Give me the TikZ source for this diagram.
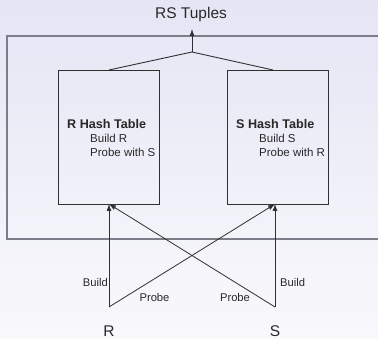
\documentclass[tikz,border=0pt]{standalone}
\usepackage{fontspec}
\setmainfont{Liberation Sans}
\usetikzlibrary{arrows.meta}
\definecolor{bgtop}{RGB}{229,229,245}
\definecolor{bgbot}{RGB}{249,249,252}
\definecolor{frame}{RGB}{125,125,138}
\definecolor{ink}{RGB}{48,48,48}
\definecolor{txt}{RGB}{40,40,40}
\tikzset{
  tablebox/.style={draw=ink, line width=0.9pt, rectangle, minimum width=101pt, minimum height=134pt, inner sep=0pt},
  flow/.style={draw=ink, line width=0.8pt, -{Latex[length=7pt,width=5pt]}},
  mergeline/.style={draw=ink, line width=0.9pt},
  bigtxt/.style={text=txt, font=\fontsize{15.5}{18}\selectfont, inner sep=0pt},
  headtxt/.style={text=txt, font=\fontsize{12.6}{15}\selectfont\bfseries, inner sep=0pt, anchor=west},
  bodytxt/.style={text=txt, font=\fontsize{11.5}{14}\selectfont, inner sep=0pt, anchor=west},
  lbl/.style={text=txt, font=\fontsize{11.2}{13}\selectfont, inner sep=0pt},
}
\begin{document}
\begin{tikzpicture}[x=1pt,y=-1pt]
  \useasboundingbox (0,0) rectangle (378,339);
  \clip (0,0) rectangle (378,339);
  % background wash
  \shade[top color=bgtop, bottom color=bgbot] (0,0) rectangle (378,339);

  % enclosing frame, running past the right edge
  \draw[frame, line width=1.3pt] (400,36) -- (7,36) -- (7,239) -- (400,239);

  % hash tables
  \node[tablebox] (rtab) at (108.5,137) {};
  \node[tablebox] (stab) at (277.5,137) {};

  \node[headtxt] (rhead) at (67,124) {R Hash Table};
  \node[bodytxt] (rbuild) at (90,138) {Build R};
  \node[bodytxt] (rprobe) at (90,152) {Probe with S};

  \node[headtxt] (shead) at (236,124) {S Hash Table};
  \node[bodytxt] (sbuild) at (259,138) {Build S};
  \node[bodytxt] (sprobe) at (259,152) {Probe with R};

  % output
  \node[bigtxt] (rs) at (191,14) {RS Tuples};
  \coordinate (apex) at (192,52);
  \coordinate (outtip) at (192,29);
  \coordinate (rtop) at (109,70);
  \coordinate (stop) at (273,70);
  \draw[mergeline] (rtop) -- (apex) -- (stop);
  \draw[flow] (apex) -- (outtip);

  % inputs
  \node[bigtxt] (r) at (109,331) {R};
  \node[bigtxt] (s) at (275,331) {S};
  \coordinate (rsrc) at (109,307);
  \coordinate (ssrc) at (275,307);
  \coordinate (rin) at (109,204);
  \coordinate (sin) at (275,204);

  \draw[flow] (rsrc) -- (rin);
  \draw[flow] (rsrc) -- (sin);
  \draw[flow] (ssrc) -- (sin);
  \draw[flow] (ssrc) -- (rin);

  \node[lbl, anchor=east] (rb) at (108,282) {Build};
  \node[lbl] (rp) at (154.5,297) {Probe};
  \node[lbl] (sp) at (235,297) {Probe};
  \node[lbl, anchor=west] (sb) at (280,282) {Build};
\end{tikzpicture}
\end{document}
